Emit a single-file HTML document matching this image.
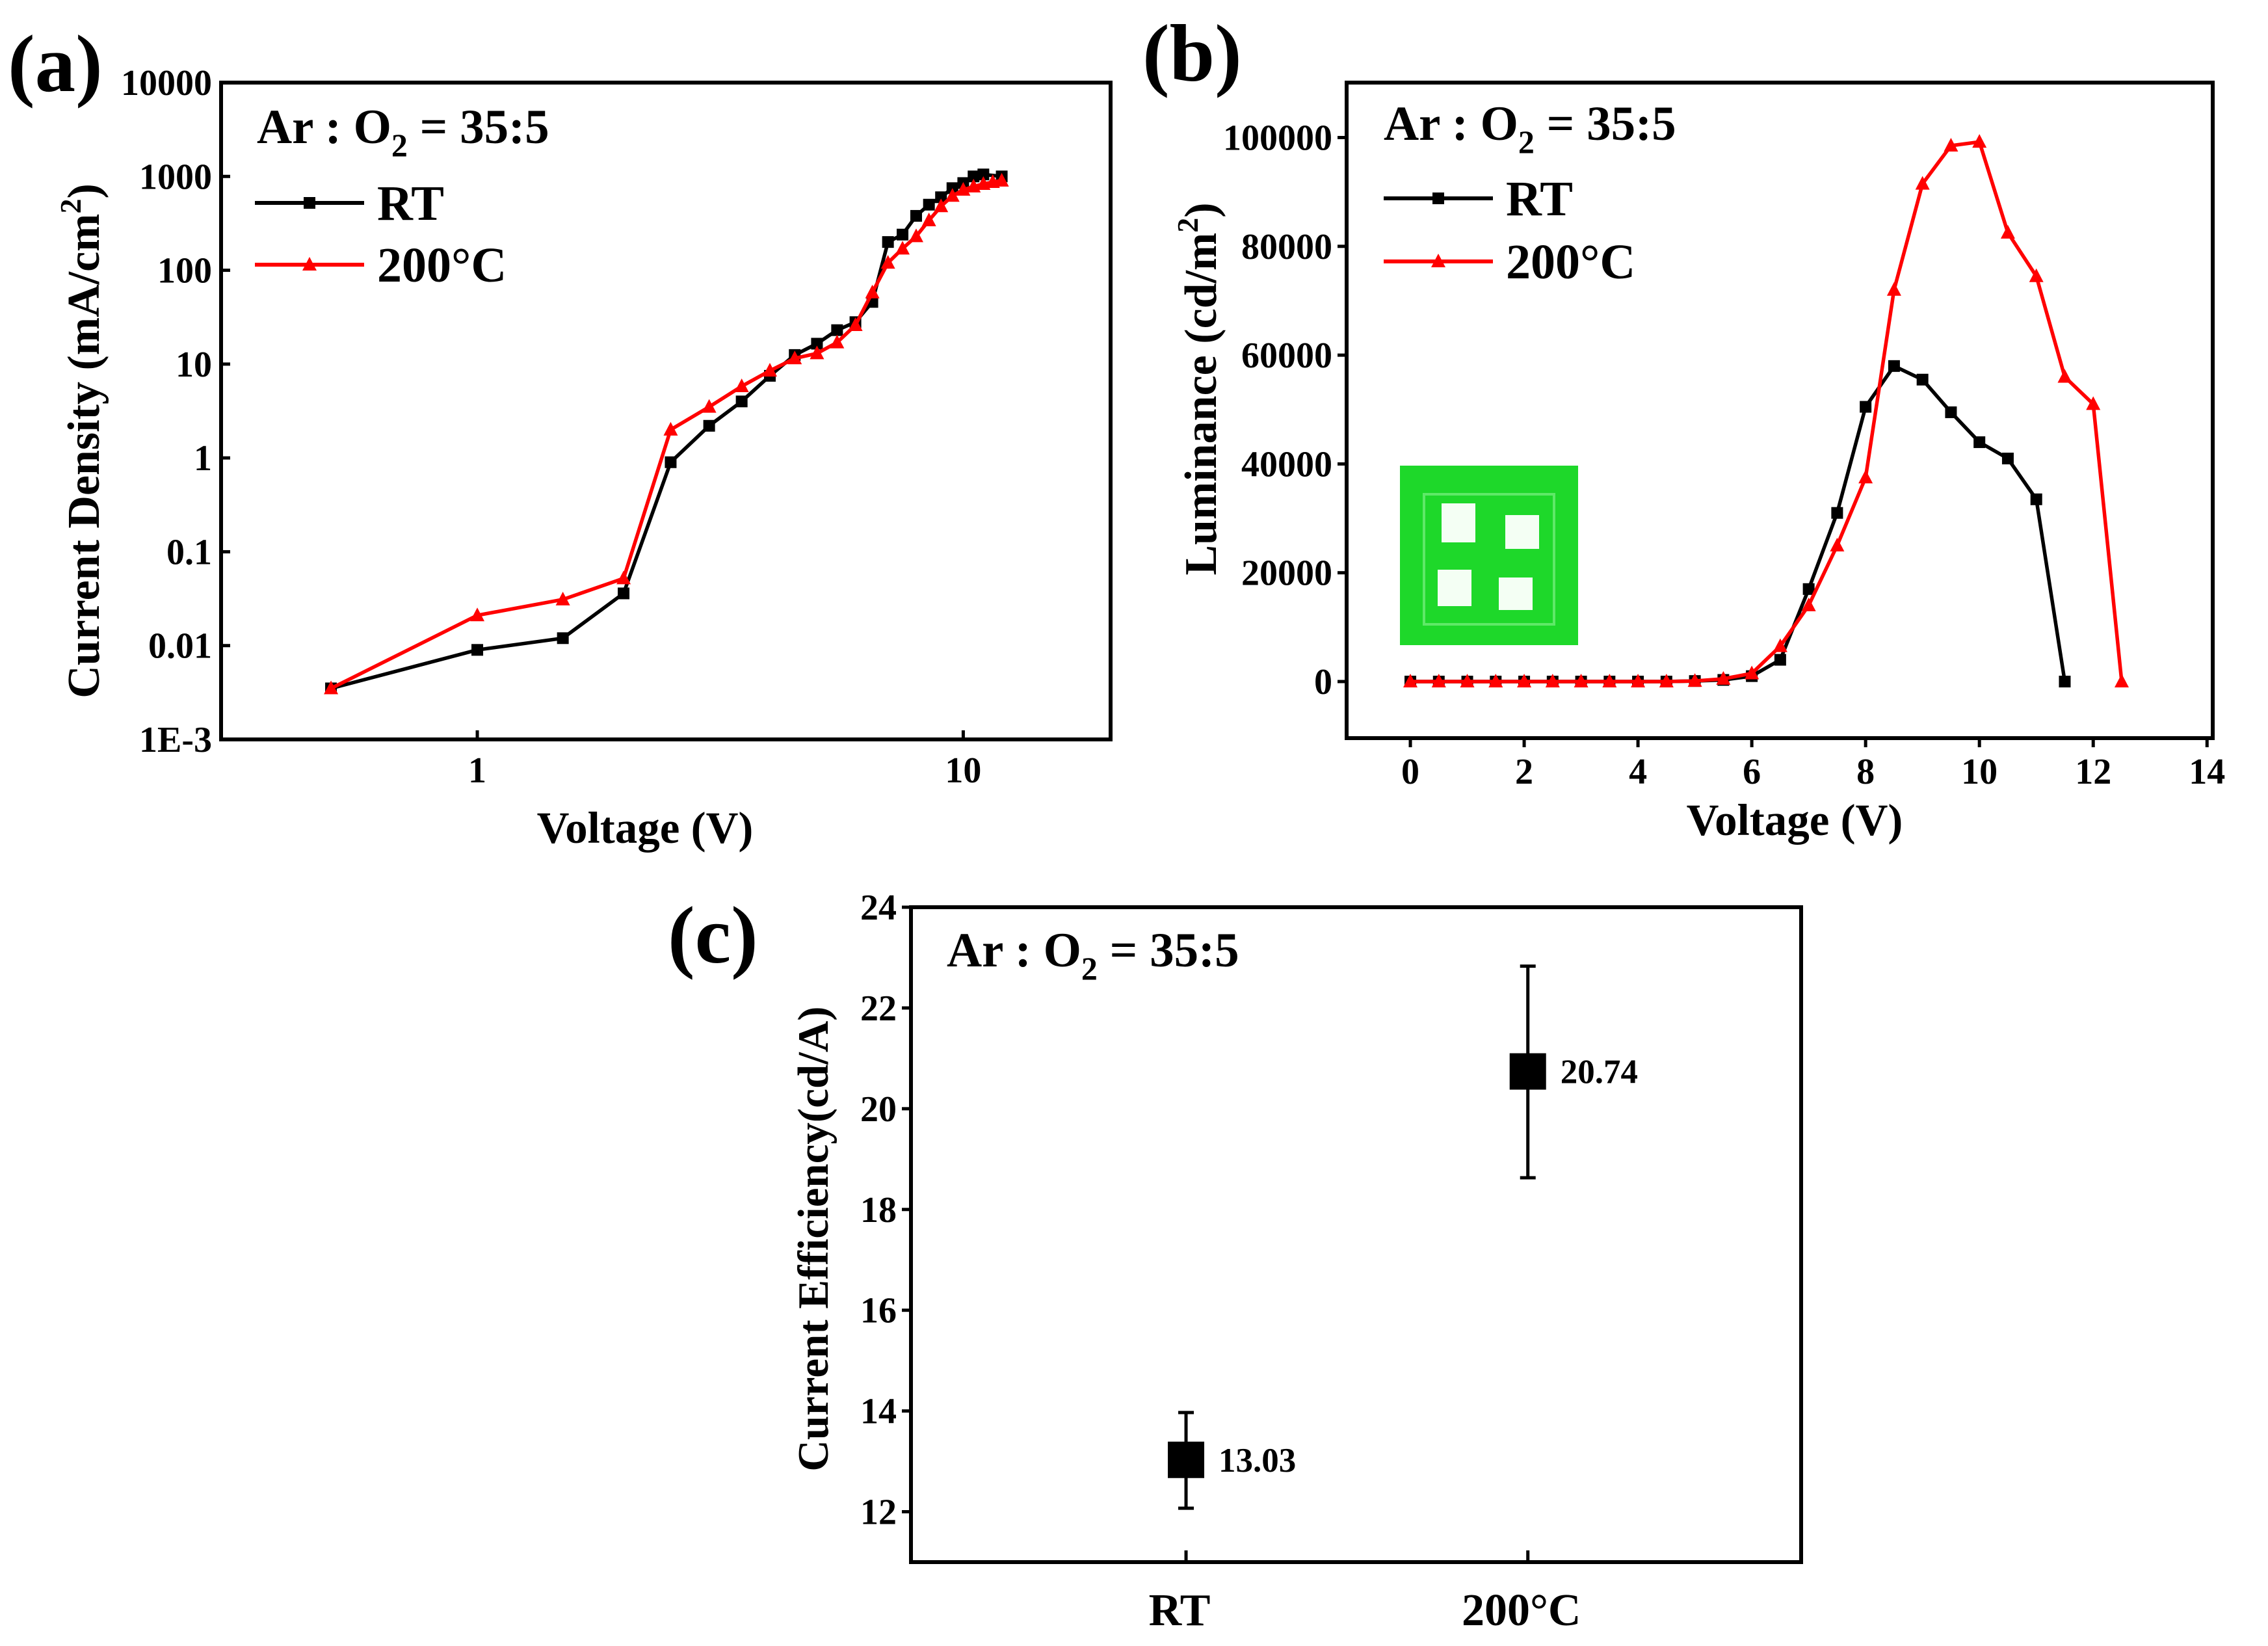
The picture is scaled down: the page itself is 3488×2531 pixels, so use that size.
<!DOCTYPE html>
<html><head><meta charset="utf-8"><style>
html,body{margin:0;padding:0;background:#fff;}
svg{display:block;font-family:"Liberation Serif",serif;font-weight:bold;}
</style></head><body>
<svg id="fig" width="3488" height="2531" viewBox="0 0 3488 2531" xmlns="http://www.w3.org/2000/svg">
<rect width="3488" height="2531" fill="#fff"/>
<g id="pa"></g>
<g id="pb"></g>
<g id="pc"></g>
</svg>
<script>
// Panel (a) data
const aVoltRT = [0.5,1,1.5,2,2.5,3,3.5,4,4.5,5,5.5,6,6.5,7,7.5,8,8.5,9,9.5,10,10.5,11,12];
const aCurRT = [0.0035,0.009,0.012,0.036,0.9,2.2,4,7.5,12.5,16.5,23,28,46,200,240,380,500,600,750,850,1000,1050,1000];
const aVoltHT = [0.5,1,1.5,2,2.5,3,3.5,4,4.5,5,5.5,6,6.5,7,7.5,8,8.5,9,9.5,10,10.5,11,11.5,12];
const aCurHT = [0.0035,0.021,0.031,0.052,2.0,3.5,5.8,8.5,11.5,13,17,26,58,120,170,230,340,480,620,720,780,830,870,900];
const aYTicks = [0.001,0.01,0.1,1,10,100,1000,10000];
const aYLabels = ["1E-3","0.01","0.1","1","10","100","1000","10000"];
const aXTicks = [1,10];
const aXLabels = ["1","10"];
// Panel (b) data
const bVoltRT = [0,0.5,1,1.5,2,2.5,3,3.5,4,4.5,5,5.5,6,6.5,7,7.5,8,8.5,9,9.5,10,10.5,11,11.5];
const bLumRT = [0,0,0,0,0,0,0,0,0,0,100,300,1000,4000,17000,31000,50500,58000,55500,49500,44000,41000,33500,0];
const bVoltHT = [0,0.5,1,1.5,2,2.5,3,3.5,4,4.5,5,5.5,6,6.5,7,7.5,8,8.5,9,9.5,10,10.5,11,11.5,12,12.5];
const bLumHT = [0,0,0,0,0,0,0,0,0,0,100,500,1500,6500,14000,25000,37500,72000,91500,98500,99200,82500,74500,56000,51000,0];
const bXTicks = [0,2,4,6,8,10,12,14];
const bYTicks = [0,20000,40000,60000,80000,100000];
// Panel (c) data
const cCats = ["RT","200°C"];
const cVals = [13.03,20.74];
const cLow = [12.07,18.63];
const cHigh = [13.97,22.83];
const cYTicks = [12,14,16,18,20,22,24];

const NS="http://www.w3.org/2000/svg";
const TICK=56;
function mk(parent,tag,attrs,text){const e=document.createElementNS(NS,tag);for(const k in attrs)e.setAttribute(k,attrs[k]);if(text!==undefined)e.textContent=text;parent.appendChild(e);return e;}

function legendBlock(g,x,y){
  const t=mk(g,'text',{x:x,y:y,'font-size':75});
  
  
  t.innerHTML='Ar : O<tspan font-size="50" dy="20">2</tspan><tspan dy="-20"> = 35:5</tspan>';
}
function legend(g,x,y1,y2){
  const l1=mk(g,'g',{});
  
  
  mk(l1,'line',{x1:x,y1:y1,x2:x+168,y2:y1,stroke:'#000','stroke-width':6});
  mk(l1,'rect',{x:x+75,y:y1-9,width:18,height:18,fill:'#000'});
  mk(l1,'text',{x:x+188,y:y1+26,'font-size':76},'RT');
  const l2=mk(g,'g',{});
  
  
  mk(l2,'line',{x1:x,y1:y2,x2:x+168,y2:y2,stroke:'#f00','stroke-width':6});
  mk(l2,'polygon',{points:`${x+84},${y2-12} ${x+95},${y2+9} ${x+73},${y2+9}`,fill:'#f00'});
  mk(l2,'text',{x:x+188,y:y2+26,'font-size':76},'200°C');
}
function series(g,xs,ys,fx,fy,color,marker,name){
  const s=mk(g,'g',{});
  
  
  const pts=xs.map((v,i)=>fx(v)+','+fy(ys[i])).join(' ');
  mk(s,'polyline',{points:pts,fill:'none',stroke:color,'stroke-width':5.5,'stroke-linejoin':'round'});
  xs.forEach((v,i)=>{
    const px=fx(v),py=fy(ys[i]);let m;
    if(marker==='sq')m=mk(s,'rect',{x:px-9,y:py-9,width:18,height:18,fill:color});
    else m=mk(s,'polygon',{points:`${px},${py-12} ${px+11},${py+9} ${px-11},${py+9}`,fill:color});
    
    
  });
}

// ---------- Panel a ----------
(function(){
  const g=document.getElementById('pa');
  const L=340,R=1708,T=127,B=1137;
  const lx0=Math.log10(0.297),lx1=Math.log10(20.1);
  const fx=v=>L+(Math.log10(v)-lx0)/(lx1-lx0)*(R-L);
  const fy=v=>B-(Math.log10(v)+3)/7*(B-T);
  const lab=mk(g,'text',{x:12,y:140,'font-size':125},'(a)');
  
  
  aYTicks.forEach((v,i)=>{
    const y=fy(v);
    mk(g,'line',{x1:L,y1:y,x2:L+14,y2:y,stroke:'#000','stroke-width':5});
    const t=mk(g,'text',{x:L-14,y:y+19,'font-size':TICK,'text-anchor':'end'},aYLabels[i]);
    
    
  });
  aXTicks.forEach((v,i)=>{
    const x=fx(v);
    mk(g,'line',{x1:x,y1:B,x2:x,y2:B-14,stroke:'#000','stroke-width':5});
    const t=mk(g,'text',{x:x,y:B+66,'font-size':TICK,'text-anchor':'middle'},aXLabels[i]);
    
    
  });
  series(g,aVoltRT,aCurRT,fx,fy,'#000','sq','series-rt');
  series(g,aVoltHT,aCurHT,fx,fy,'#f00','tri','series-200c');
  const box=mk(g,'rect',{x:L,y:T,width:R-L,height:B-T,fill:'none',stroke:'#000','stroke-width':6});
  
  
  legendBlock(g,395,220);
  legend(g,392,312,407);
  const xt=mk(g,'text',{x:992,y:1296,'font-size':69,'text-anchor':'middle'},'Voltage (V)');
  
  
  const yt=mk(g,'text',{x:0,y:0,'font-size':70,'text-anchor':'middle',transform:'translate(152,678) rotate(-90)'});
  
  
  yt.innerHTML='Current Density (mA/cm<tspan font-size="46" dy="-28">2</tspan><tspan dy="28">)</tspan>';
})();

// ---------- Panel b ----------
(function(){
  const g=document.getElementById('pb');
  const L=2071,R=3403,T=127,B=1135;
  const x0=-1.12,x1=14.1,y0=-10400,y1=110100;
  const fx=v=>L+(v-x0)/(x1-x0)*(R-L);
  const fy=v=>B-(v-y0)/(y1-y0)*(B-T);
  const lab=mk(g,'text',{x:1757,y:124,'font-size':125},'(b)');
  
  
  bYTicks.forEach(v=>{
    const y=fy(v);
    mk(g,'line',{x1:L,y1:y,x2:L-14,y2:y,stroke:'#000','stroke-width':5});
    const t=mk(g,'text',{x:L-22,y:y+19,'font-size':TICK,'text-anchor':'end'},String(v));
    
    
  });
  bXTicks.forEach(v=>{
    const x=fx(v);
    mk(g,'line',{x1:x,y1:B,x2:x,y2:B+14,stroke:'#000','stroke-width':5});
    const t=mk(g,'text',{x:x,y:B+70,'font-size':TICK,'text-anchor':'middle'},String(v));
    
    
  });
  // inset photo
  const ins=mk(g,'g',{});
  
  
  mk(ins,'rect',{x:2153,y:716,width:274,height:276,fill:'#1ed82a'});
  mk(ins,'rect',{x:2190,y:760,width:200,height:200,fill:'none',stroke:'#5fe868','stroke-width':4});
  mk(ins,'rect',{x:2217,y:774,width:52,height:60,fill:'#f4fff4'});
  mk(ins,'rect',{x:2315,y:792,width:52,height:52,fill:'#f4fff4'});
  mk(ins,'rect',{x:2211,y:876,width:52,height:56,fill:'#f4fff4'});
  mk(ins,'rect',{x:2305,y:888,width:52,height:50,fill:'#f4fff4'});
  series(g,bVoltRT,bLumRT,fx,fy,'#000','sq','series-rt');
  series(g,bVoltHT,bLumHT,fx,fy,'#f00','tri','series-200c');
  const box=mk(g,'rect',{x:L,y:T,width:R-L,height:B-T,fill:'none',stroke:'#000','stroke-width':6});
  
  
  legendBlock(g,2128,215);
  legend(g,2128,305,402);
  const xt=mk(g,'text',{x:2760,y:1284,'font-size':69,'text-anchor':'middle'},'Voltage (V)');
  
  
  const yt=mk(g,'text',{x:0,y:0,'font-size':70,'text-anchor':'middle',transform:'translate(1870,598) rotate(-90)'});
  
  
  yt.innerHTML='Luminance (cd/m<tspan font-size="46" dy="-28">2</tspan><tspan dy="28">)</tspan>';
})();

// ---------- Panel c ----------
(function(){
  const g=document.getElementById('pc');
  const L=1401,R=2770,T=1395,B=2402;
  const y0=11.0,y1=24.0;
  const fy=v=>B-(v-y0)/(y1-y0)*(B-T);
  const catPos=[0.309,0.693];
  const fx=i=>L+catPos[i]*(R-L);
  const lab=mk(g,'text',{x:1027,y:1480,'font-size':125},'(c)');
  
  
  cYTicks.forEach(v=>{
    const y=fy(v);
    mk(g,'line',{x1:L,y1:y,x2:L-14,y2:y,stroke:'#000','stroke-width':5});
    const t=mk(g,'text',{x:L-22,y:y+19,'font-size':TICK,'text-anchor':'end'},String(v));
    
    
  });
  cCats.forEach((c,i)=>{
    const x=fx(i);
    mk(g,'line',{x1:x,y1:B,x2:x,y2:B-18,stroke:'#000','stroke-width':5});
    const t=mk(g,'text',{x:x-10,y:B+97,'font-size':70,'text-anchor':'middle'},c);
    
    
    const p=mk(g,'g',{});
    
    
    mk(p,'line',{x1:x,y1:fy(cLow[i]),x2:x,y2:fy(cHigh[i]),stroke:'#000','stroke-width':5});
    mk(p,'line',{x1:x-12,y1:fy(cLow[i]),x2:x+12,y2:fy(cLow[i]),stroke:'#000','stroke-width':5});
    mk(p,'line',{x1:x-12,y1:fy(cHigh[i]),x2:x+12,y2:fy(cHigh[i]),stroke:'#000','stroke-width':5});
    mk(p,'rect',{x:x-28,y:fy(cVals[i])-28,width:56,height:56,fill:'#000'});
    const vl=mk(g,'text',{x:x+50,y:fy(cVals[i])+18,'font-size':53},cVals[i].toFixed(2));
    
    
  });
  const box=mk(g,'rect',{x:L,y:T,width:R-L,height:B-T,fill:'none',stroke:'#000','stroke-width':6});
  
  
  legendBlock(g,1456,1486);
  const yt=mk(g,'text',{x:0,y:0,'font-size':67,'text-anchor':'middle',transform:'translate(1273,1905) rotate(-90)'},'Current Efficiency(cd/A)');
  
  
})();
</script>
</body></html>
